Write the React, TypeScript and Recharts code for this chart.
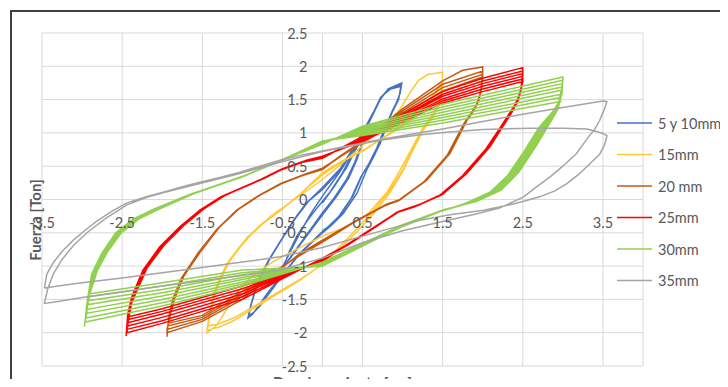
import React from 'react';
import { LineChart, Line, XAxis, YAxis, CartesianGrid, ReferenceLine, Legend } from 'recharts';

type Pt = [number, number];

const X_TICKS = [-3.5, -2.5, -1.5, -0.5, 0.5, 1.5, 2.5, 3.5];
const Y_TICKS = [-2.5, -2, -1.5, -1, -0.5, 0, 0.5, 1, 1.5, 2, 2.5];
const X_DOMAIN: [number, number] = [-3.5, 4];
const Y_DOMAIN: [number, number] = [-2.5, 2.5];

const SERIES_NAMES = ['5 y 10mm', '15mm', '20 mm', '25mm', '30mm', '35mm'];
const SERIES_COLORS = ['#4472C4', '#FFC834', '#C55A11', '#FF0000', '#92D050', '#A5A5A5'];

const X_TITLE = 'Desplazamiento [cm]';
const Y_TITLE = 'Fuerza [Ton]';

// 5 y 10mm
const blue5y10: Pt[] = [
  [0, -0.05], [0.15, 0.2], [0.3, 0.48], [0.42, 0.76], [0.5, 0.95],
  [0.48, 0.8], [0.4, 0.55], [0.3, 0.3], [0.15, 0.03], [0, -0.2], [-0.15, -0.45], [-0.3, -0.7], [-0.42, -0.9], [-0.48, -1.0],
  [-0.42, -0.8], [-0.32, -0.55], [-0.18, -0.3], [-0.05, -0.1], [0.1, 0.12], [0.25, 0.4], [0.38, 0.7], [0.47, 0.9], [0.52, 1.0],
  [0.5, 0.85], [0.43, 0.6], [0.33, 0.33], [0.18, 0.05], [0.02, -0.2], [-0.13, -0.44], [-0.28, -0.68], [-0.4, -0.88], [-0.5, -1.02],
  [-0.4, -0.78], [-0.28, -0.5], [-0.15, -0.22], [0, 0.05], [0.22, 0.42], [0.43, 0.82], [0.55, 1.08], [0.64, 1.3], [0.72, 1.5], [0.82, 1.66], [0.99, 1.75],
  [0.97, 1.6], [0.93, 1.47], [0.88, 1.34], [0.8, 1.1], [0.72, 0.84], [0.63, 0.62], [0.55, 0.44], [0.43, 0.09], [0.26, -0.21], [0.12, -0.38], [0, -0.5], [-0.28, -0.81], [-0.49, -1.11], [-0.69, -1.41], [-0.8, -1.6], [-0.87, -1.72], [-0.93, -1.78],
  [-0.9, -1.61], [-0.85, -1.4], [-0.78, -1.16], [-0.68, -0.93], [-0.57, -0.71], [-0.46, -0.5], [-0.36, -0.31], [-0.2, -0.05], [0, 0.15], [0.22, 0.44], [0.43, 0.84], [0.55, 1.1], [0.64, 1.3], [0.72, 1.52], [0.82, 1.65], [0.98, 1.72],
  [0.96, 1.56], [0.91, 1.42], [0.86, 1.3], [0.78, 1.06], [0.7, 0.8], [0.6, 0.56], [0.5, 0.38], [0.38, 0.05], [0.22, -0.24], [0.08, -0.4], [0, -0.48], [-0.26, -0.78], [-0.46, -1.08], [-0.66, -1.4], [-0.78, -1.6], [-0.86, -1.7], [-0.92, -1.74],
  [-0.89, -1.58], [-0.84, -1.38], [-0.76, -1.14], [-0.66, -0.9], [-0.55, -0.68], [-0.44, -0.47], [-0.33, -0.27], [-0.17, -0.02], [0, 0.18], [0.22, 0.46], [0.43, 0.86], [0.55, 1.12], [0.64, 1.32], [0.73, 1.54], [0.85, 1.66], [0.98, 1.7],
  [0.95, 1.5], [0.9, 1.38], [0.84, 1.24], [0.76, 1.02], [0.68, 0.78], [0.58, 0.54], [0.48, 0.34], [0.36, 0.02], [0.2, -0.26], [0.06, -0.42], [0, -0.47],
];

// 15mm
const yellow15: Pt[] = [
  [-1.44, -1.95], [-1.41, -1.72], [-1.36, -1.42], [-1.28, -1.18], [-1.19, -0.96], [-1.06, -0.75], [-0.94, -0.57], [-0.78, -0.39], [-0.61, -0.22], [-0.35, 0.0], [0, 0.3], [0.25, 0.55], [0.55, 0.86], [0.8, 1.14], [0.97, 1.36], [1.1, 1.62], [1.2, 1.79], [1.32, 1.88], [1.5, 1.91],
  [1.49, 1.68], [1.45, 1.45], [1.37, 1.26], [1.26, 1.09], [1.12, 0.78], [0.97, 0.44], [0.8, 0.1], [0.55, -0.24], [0.26, -0.43], [0, -0.55], [-0.28, -0.72], [-0.61, -0.93], [-0.9, -1.17], [-1.1, -1.45], [-1.22, -1.7], [-1.33, -1.9], [-1.44, -2.0],
  [-1.41, -1.74], [-1.35, -1.42], [-1.27, -1.18], [-1.17, -0.94], [-1.04, -0.73], [-0.92, -0.55], [-0.76, -0.37], [-0.55, -0.18], [-0.3, 0.06], [0, 0.37], [0.22, 0.55], [0.55, 0.76], [0.97, 1.1], [1.22, 1.32], [1.4, 1.6], [1.5, 1.79],
  [1.49, 1.6], [1.45, 1.42], [1.37, 1.24], [1.26, 1.07], [1.12, 0.74], [1.0, 0.44], [0.83, 0.12], [0.6, -0.22], [0.3, -0.6], [0, -0.97], [-0.28, -1.21], [-0.69, -1.51], [-1.11, -1.82], [-1.3, -1.92], [-1.44, -1.96],
  [-1.4, -1.72], [-1.34, -1.41], [-1.26, -1.17], [-1.16, -0.93], [-1.03, -0.72], [-0.9, -0.54], [-0.74, -0.36], [-0.53, -0.17], [-0.28, 0.08], [0, 0.4], [0.22, 0.56], [0.55, 0.77], [0.97, 1.08], [1.22, 1.29], [1.4, 1.56], [1.5, 1.75],
  [1.49, 1.57], [1.45, 1.4], [1.37, 1.22], [1.26, 1.05], [1.12, 0.72], [1.0, 0.42], [0.84, 0.1], [0.62, -0.24], [0.32, -0.62], [0, -0.98], [-0.28, -1.2], [-0.69, -1.49], [-1.11, -1.78], [-1.3, -1.87], [-1.44, -1.9],
];

// 20 mm
const brown20: Pt[] = [
  [-1.94, -2.06], [-1.92, -1.78], [-1.87, -1.5], [-1.76, -1.18], [-1.55, -0.8], [-1.32, -0.45], [-1.07, -0.16], [-0.82, 0.04], [-0.53, 0.23], [-0.25, 0.36], [0, 0.45], [0.22, 0.65], [0.55, 0.92], [1.0, 1.36], [1.5, 1.78], [1.75, 1.94], [2.0, 1.99],
  [1.99, 1.7], [1.95, 1.48], [1.88, 1.32], [1.8, 1.18], [1.59, 0.69], [1.3, 0.29], [0.97, 0.0], [0.8, -0.07], [0.43, -0.31], [0, -0.61], [-0.28, -0.81], [-1.0, -1.5], [-1.5, -1.83], [-1.94, -2.0],
  [-1.91, -1.75], [-1.86, -1.49], [-1.75, -1.17], [-1.54, -0.79], [-1.31, -0.44], [-1.06, -0.15], [-0.81, 0.05], [-0.52, 0.24], [-0.24, 0.37], [0, 0.46], [0.22, 0.65], [0.55, 0.91], [1.0, 1.33], [1.5, 1.73], [2.0, 1.93],
  [1.98, 1.66], [1.94, 1.46], [1.87, 1.31], [1.79, 1.17], [1.58, 0.68], [1.29, 0.28], [0.96, -0.01], [0.79, -0.08], [0.42, -0.32], [0, -0.62], [-0.28, -0.82], [-1.0, -1.46], [-1.5, -1.8], [-1.94, -1.95],
  [-1.9, -1.72], [-1.85, -1.48], [-1.74, -1.16], [-1.53, -0.78], [-1.3, -0.43], [-1.05, -0.15], [-0.8, 0.05], [-0.51, 0.24], [-0.23, 0.37], [0, 0.46], [0.22, 0.64], [0.55, 0.9], [1.0, 1.3], [1.5, 1.68], [2.0, 1.88],
  [1.98, 1.63], [1.93, 1.44], [1.86, 1.3], [1.78, 1.16], [1.57, 0.67], [1.28, 0.27], [0.95, -0.02], [0.78, -0.09], [0.41, -0.33], [0, -0.63], [-0.28, -0.83], [-1.0, -1.42], [-1.5, -1.77], [-1.93, -1.9],
  [-1.89, -1.69], [-1.84, -1.47], [-1.73, -1.15], [-1.52, -0.78], [-1.29, -0.42], [-1.04, -0.14], [-0.79, 0.06], [-0.5, 0.25], [-0.22, 0.38], [0, 0.47], [0.22, 0.64], [0.55, 0.89], [1.0, 1.27], [1.5, 1.63], [2.0, 1.84],
  [1.97, 1.6], [1.92, 1.42], [1.85, 1.29], [1.77, 1.15], [1.56, 0.67], [1.27, 0.27], [0.94, -0.02], [0.77, -0.1], [0.4, -0.34], [0, -0.64], [-0.28, -0.84], [-1.0, -1.38], [-1.5, -1.74], [-1.93, -1.86],
];

// 25mm
const red25: Pt[] = [
  [-2.45, -2.05], [-2.43, -1.72], [-2.38, -1.46], [-2.24, -1.06], [-2.03, -0.71], [-1.78, -0.41], [-1.53, -0.16], [-1.28, 0.03], [-1.05, 0.15], [-0.78, 0.29], [-0.53, 0.44], [-0.25, 0.56], [0, 0.62], [0.55, 0.98], [1.5, 1.62], [2.0, 1.82], [2.5, 1.98],
  [2.49, 1.72], [2.44, 1.48], [2.36, 1.3], [2.28, 1.15], [2.09, 0.79], [1.8, 0.39], [1.51, 0.09], [1.2, -0.08], [0.97, -0.17], [0.7, -0.38], [0.34, -0.66], [0, -0.88], [-1.0, -1.5], [-2.0, -1.86], [-2.44, -2.0],
  [-2.42, -1.7], [-2.37, -1.45], [-2.23, -1.05], [-2.02, -0.7], [-1.77, -0.4], [-1.52, -0.15], [-1.27, 0.04], [-1.04, 0.16], [-0.77, 0.3], [-0.52, 0.45], [-0.24, 0.57], [0, 0.63], [0.55, 0.96], [1.5, 1.58], [2.0, 1.78], [2.5, 1.93],
  [2.48, 1.68], [2.43, 1.46], [2.35, 1.29], [2.27, 1.14], [2.08, 0.78], [1.79, 0.38], [1.5, 0.08], [1.19, -0.09], [0.96, -0.18], [0.69, -0.39], [0.33, -0.67], [0, -0.89], [-1.0, -1.46], [-2.0, -1.82], [-2.44, -1.95],
  [-2.41, -1.66], [-2.36, -1.44], [-2.22, -1.05], [-2.01, -0.7], [-1.76, -0.4], [-1.51, -0.15], [-1.26, 0.04], [-1.03, 0.16], [-0.76, 0.3], [-0.51, 0.45], [-0.23, 0.57], [0, 0.63], [0.55, 0.95], [1.5, 1.55], [2.0, 1.74], [2.5, 1.89],
  [2.48, 1.65], [2.42, 1.44], [2.34, 1.28], [2.26, 1.13], [2.07, 0.77], [1.78, 0.37], [1.49, 0.07], [1.18, -0.09], [0.95, -0.18], [0.68, -0.4], [0.32, -0.68], [0, -0.9], [-1.0, -1.42], [-2.0, -1.77], [-2.43, -1.9],
  [-2.4, -1.62], [-2.35, -1.43], [-2.21, -1.04], [-2.0, -0.7], [-1.75, -0.4], [-1.5, -0.15], [-1.25, 0.05], [-1.02, 0.17], [-0.75, 0.31], [-0.5, 0.46], [-0.22, 0.58], [0, 0.64], [0.55, 0.93], [1.5, 1.51], [2.0, 1.7], [2.5, 1.85],
  [2.47, 1.62], [2.41, 1.42], [2.33, 1.27], [2.25, 1.12], [2.06, 0.77], [1.77, 0.37], [1.48, 0.07], [1.17, -0.1], [0.94, -0.19], [0.67, -0.4], [0.31, -0.68], [0, -0.91], [-1.0, -1.38], [-2.0, -1.72], [-2.43, -1.85],
  [-2.39, -1.58], [-2.34, -1.42], [-2.2, -1.04], [-1.99, -0.69], [-1.74, -0.39], [-1.49, -0.14], [-1.24, 0.05], [-1.01, 0.17], [-0.74, 0.31], [-0.49, 0.46], [-0.21, 0.58], [0, 0.64], [0.55, 0.92], [1.5, 1.48], [2.0, 1.66], [2.5, 1.81],
  [2.47, 1.6], [2.4, 1.41], [2.32, 1.26], [2.24, 1.11], [2.05, 0.76], [1.76, 0.36], [1.47, 0.06], [1.16, -0.1], [0.93, -0.19], [0.66, -0.41], [0.3, -0.69], [0, -0.92], [-1.0, -1.34], [-2.0, -1.68], [-2.42, -1.8],
  [-2.38, -1.55], [-2.33, -1.41], [-2.19, -1.03], [-1.98, -0.69], [-1.73, -0.39], [-1.48, -0.14], [-1.23, 0.05], [-1.0, 0.18], [-0.73, 0.32], [-0.48, 0.47], [-0.2, 0.59], [0, 0.65], [0.55, 0.9], [1.5, 1.45], [2.0, 1.62], [2.5, 1.77],
  [2.46, 1.57], [2.39, 1.4], [2.31, 1.25], [2.23, 1.1], [2.04, 0.76], [1.75, 0.36], [1.46, 0.06], [1.15, -0.11], [0.92, -0.2], [0.65, -0.41], [0.29, -0.69], [0, -0.93], [-1.0, -1.3], [-2.0, -1.64], [-2.42, -1.76],
];

// 30mm
const green30: Pt[] = [
  [-2.97, -1.91], [-2.94, -1.56], [-2.88, -1.12], [-2.75, -0.8], [-2.58, -0.5], [-2.36, -0.29], [-2.1, -0.14], [-1.65, 0.08], [-1.03, 0.33], [-0.53, 0.58], [0, 0.83], [0.5, 1.1], [1.5, 1.43], [3.0, 1.84],
  [2.99, 1.6], [2.94, 1.36], [2.84, 1.15], [2.66, 0.79], [2.45, 0.41], [2.23, 0.14], [1.92, -0.03], [1.52, -0.15], [1.0, -0.38], [0.5, -0.66], [0, -0.94], [-1.0, -1.3], [-2.0, -1.6], [-2.96, -1.84],
  [-2.93, -1.52], [-2.87, -1.12], [-2.74, -0.8], [-2.57, -0.5], [-2.35, -0.29], [-2.09, -0.14], [-1.64, 0.08], [-1.02, 0.33], [-0.52, 0.58], [0, 0.84], [0.5, 1.08], [1.5, 1.39], [3.0, 1.79],
  [2.98, 1.56], [2.92, 1.34], [2.82, 1.14], [2.64, 0.78], [2.43, 0.4], [2.21, 0.14], [1.9, -0.03], [1.5, -0.16], [1.0, -0.39], [0.5, -0.67], [0, -0.95], [-1.0, -1.27], [-2.0, -1.55], [-2.95, -1.78],
  [-2.92, -1.48], [-2.86, -1.1], [-2.73, -0.79], [-2.56, -0.5], [-2.34, -0.29], [-2.08, -0.14], [-1.63, 0.08], [-1.01, 0.34], [-0.51, 0.59], [0, 0.85], [0.5, 1.06], [1.5, 1.35], [2.99, 1.74],
  [2.97, 1.52], [2.91, 1.33], [2.8, 1.13], [2.62, 0.77], [2.41, 0.39], [2.19, 0.13], [1.88, -0.04], [1.49, -0.17], [0.99, -0.4], [0.5, -0.68], [0, -0.96], [-1.0, -1.24], [-2.0, -1.5], [-2.95, -1.71],
  [-2.91, -1.44], [-2.85, -1.1], [-2.72, -0.79], [-2.55, -0.5], [-2.33, -0.29], [-2.07, -0.14], [-1.62, 0.09], [-1.0, 0.34], [-0.5, 0.59], [0, 0.86], [0.5, 1.04], [1.5, 1.31], [2.99, 1.69],
  [2.96, 1.5], [2.89, 1.32], [2.78, 1.12], [2.6, 0.76], [2.39, 0.39], [2.17, 0.13], [1.86, -0.04], [1.48, -0.17], [0.98, -0.41], [0.5, -0.68], [0, -0.97], [-1.0, -1.2], [-2.0, -1.45], [-2.94, -1.65],
  [-2.9, -1.4], [-2.84, -1.09], [-2.71, -0.79], [-2.54, -0.5], [-2.32, -0.29], [-2.06, -0.14], [-1.61, 0.09], [-0.99, 0.35], [-0.5, 0.6], [0, 0.87], [0.5, 1.02], [1.5, 1.27], [2.98, 1.64],
  [2.95, 1.47], [2.87, 1.3], [2.76, 1.11], [2.58, 0.75], [2.37, 0.38], [2.15, 0.12], [1.84, -0.05], [1.47, -0.18], [0.97, -0.42], [0.5, -0.69], [0, -0.98], [-1.0, -1.17], [-2.0, -1.4], [-2.94, -1.58],
  [-2.89, -1.36], [-2.83, -1.08], [-2.7, -0.78], [-2.53, -0.5], [-2.31, -0.29], [-2.05, -0.14], [-1.6, 0.09], [-0.98, 0.35], [-0.49, 0.6], [0, 0.87], [0.5, 1.0], [1.5, 1.23], [2.98, 1.58],
  [2.94, 1.44], [2.86, 1.29], [2.74, 1.1], [2.56, 0.75], [2.35, 0.38], [2.13, 0.12], [1.82, -0.05], [1.46, -0.18], [0.96, -0.42], [0.5, -0.69], [0, -0.99], [-1.0, -1.13], [-2.0, -1.35], [-2.93, -1.52],
  [-2.88, -1.33], [-2.82, -1.08], [-2.69, -0.78], [-2.52, -0.5], [-2.3, -0.29], [-2.04, -0.14], [-1.59, 0.1], [-0.97, 0.36], [-0.48, 0.61], [0, 0.88], [0.5, 0.98], [1.5, 1.19], [2.97, 1.53],
  [2.93, 1.41], [2.84, 1.27], [2.72, 1.09], [2.54, 0.74], [2.33, 0.37], [2.11, 0.11], [1.8, -0.06], [1.45, -0.19], [0.95, -0.43], [0.5, -0.7], [0, -1.0], [-1.0, -1.1], [-2.0, -1.3], [-2.93, -1.46],
  [-2.87, -1.3], [-2.81, -1.07], [-2.68, -0.78], [-2.51, -0.5], [-2.29, -0.29], [-2.03, -0.14], [-1.58, 0.1], [-0.96, 0.36], [-0.47, 0.61], [0, 0.88], [0.5, 0.96], [1.5, 1.15], [2.97, 1.47],
  [2.92, 1.38], [2.83, 1.26], [2.7, 1.08], [2.52, 0.73], [2.31, 0.36], [2.09, 0.11], [1.78, -0.06], [1.44, -0.19], [0.94, -0.43], [0.5, -0.7], [0, -1.0], [-1.0, -1.06], [-2.0, -1.25], [-2.92, -1.42],
];

// 35mm
const gray35: Pt[] = [
  [-3.47, -1.33], [-3.44, -1.12], [-3.36, -0.95], [-3.25, -0.78], [-3.11, -0.61], [-2.95, -0.45], [-2.82, -0.33], [-2.62, -0.17], [-2.44, -0.05], [-2.2, 0.04], [-1.99, 0.11], [-1.75, 0.19], [-1.53, 0.26], [-1.28, 0.33], [-1.03, 0.41], [-0.78, 0.5], [-0.53, 0.59], [-0.25, 0.67], [0, 0.73], [0.72, 0.9], [1.5, 1.06], [2.0, 1.17], [2.5, 1.28], [3.0, 1.38], [3.5, 1.48], [3.55, 1.47],
  [3.52, 1.36], [3.48, 1.25], [3.46, 1.19], [3.4, 1.06], [3.32, 0.94], [3.17, 0.69], [3.0, 0.5], [2.84, 0.34], [2.65, 0.17], [2.51, 0.04], [2.21, -0.13], [1.9, -0.22], [1.5, -0.33], [1.0, -0.47], [0.5, -0.65], [0, -0.88], [-0.53, -1.06], [-1.0, -1.14], [-1.5, -1.22], [-2.0, -1.3], [-2.5, -1.39], [-3.0, -1.47], [-3.3, -1.53], [-3.47, -1.56],
  [-3.43, -1.35], [-3.36, -1.12], [-3.25, -0.9], [-3.1, -0.68], [-2.92, -0.48], [-2.7, -0.28], [-2.44, -0.08], [-2.2, 0.03], [-1.99, 0.1], [-1.53, 0.24], [-1.03, 0.39], [-0.53, 0.56], [0, 0.72], [0.72, 0.89], [1.2, 0.97], [1.55, 1.01], [2.0, 1.05], [2.59, 1.07], [3.0, 1.07], [3.3, 1.06], [3.42, 1.02], [3.5, 0.99], [3.55, 0.96],
  [3.52, 0.82], [3.46, 0.68], [3.34, 0.54], [3.2, 0.38], [3.05, 0.24], [2.9, 0.13], [2.71, 0.04], [2.5, -0.03], [2.34, -0.08], [2.01, -0.16], [1.59, -0.23], [1.22, -0.31], [0.5, -0.55], [0, -0.72], [-0.53, -0.86], [-1.0, -0.94], [-1.5, -1.02], [-2.0, -1.1], [-2.5, -1.18], [-3.0, -1.25], [-3.3, -1.3], [-3.47, -1.33],
];

const SERIES_POINTS: Pt[][] = [blue5y10, yellow15, brown20, red25, green30, gray35];

const toRows = (pts: Pt[]) => pts.map(([x, y]) => ({ x, y }));

const W = 720;
const H = 379;
const MARGIN = { top: 25, right: 85, bottom: 20, left: 33 };
const AXIS_SIZE = 1;
const PLOT_LEFT = MARGIN.left + AXIS_SIZE;
const PLOT_W = W - PLOT_LEFT - MARGIN.right;
const PLOT_H = H - MARGIN.top - MARGIN.bottom - AXIS_SIZE;
const ZERO_X = PLOT_LEFT + ((0 - X_DOMAIN[0]) / (X_DOMAIN[1] - X_DOMAIN[0])) * PLOT_W;
const ZERO_Y = MARGIN.top + PLOT_H / 2;

const FONT = 'Lato, "Open Sans", sans-serif';
const TEXT = '#595959';
const GRID = '#d9d9d9';
const FS = 14.5;

const XTick = (props: any) => {
  const { x, payload } = props;
  return (
    <text x={x} y={ZERO_Y + 22.5} textAnchor="middle" dominantBaseline="central" fill={TEXT} fontSize={FS} fontFamily={FONT}>
      {String(payload.value)}
    </text>
  );
};

const YTick = (props: any) => {
  const { y, payload } = props;
  return (
    <text x={ZERO_X - 15} y={y} textAnchor="end" dominantBaseline="central" fill={TEXT} fontSize={FS} fontFamily={FONT}>
      {String(payload.value)}
    </text>
  );
};

const XTitle = () => (
  <text x={PLOT_LEFT + PLOT_W / 2} y={380} textAnchor="middle" fill={TEXT} fontSize={15} fontWeight="bold" fontFamily={FONT}>
    {X_TITLE}
  </text>
);

const YTitle = () => (
  <text x={33} y={212} transform="rotate(-90 33 212)" textAnchor="middle" fill={TEXT} fontSize={15} fontWeight="bold" fontFamily={FONT}>
    {Y_TITLE}
  </text>
);

const LegendBox = () => (
  <svg width={115} height={195} style={{ overflow: 'visible' }}>
    {SERIES_NAMES.map((name, i) => {
      const cy = 8 + i * 31.5;
      return (
        <g key={name}>
          <line x1={0} x2={35} y1={cy} y2={cy} stroke={SERIES_COLORS[i]} strokeWidth={1.5} />
          <text x={41} y={cy} dominantBaseline="central" fill={TEXT} fontSize={FS} fontFamily={FONT}>
            {name}
          </text>
        </g>
      );
    })}
  </svg>
);

export default function App() {
  return (
    <div style={{ position: 'relative', width: W, height: H, marginBottom: -8 }}>
      <div
        style={{
          position: 'absolute',
          left: 2,
          top: 2,
          width: 718,
          height: 377,
          boxSizing: 'border-box',
          borderLeft: '2px solid #404040',
          borderTop: '2px solid #404040',
        }}
      />
      <LineChart width={W} height={H} margin={MARGIN} style={{ position: 'absolute', left: 0, top: 0 }}>
        <CartesianGrid stroke={GRID} strokeWidth={1} />
        <XAxis
          dataKey="x"
          type="number"
          domain={X_DOMAIN}
          ticks={X_TICKS}
          allowDataOverflow
          axisLine={false}
          tickLine={false}
          height={AXIS_SIZE}
          tick={(p: any) => <XTick {...p} />}
          interval={0}
          label={<XTitle />}
        />
        <YAxis
          type="number"
          domain={Y_DOMAIN}
          ticks={Y_TICKS}
          allowDataOverflow
          axisLine={false}
          tickLine={false}
          width={AXIS_SIZE}
          tick={(p: any) => <YTick {...p} />}
          interval={0}
          label={<YTitle />}
        />
        <ReferenceLine x={0} stroke={GRID} strokeWidth={1} />
        {SERIES_POINTS.map((pts, i) => (
          <Line
            key={SERIES_NAMES[i]}
            name={SERIES_NAMES[i]}
            data={toRows(pts)}
            dataKey="y"
            type="linear"
            stroke={SERIES_COLORS[i]}
            strokeWidth={1.5}
            dot={false}
            activeDot={false}
            isAnimationActive={false}
          />
        ))}
        <Legend
          layout="vertical"
          align="center"
          verticalAlign="middle"
          content={<LegendBox />}
          wrapperStyle={{ left: 609, top: 107, width: 115, height: 195 }}
        />
      </LineChart>
    </div>
  );
}
